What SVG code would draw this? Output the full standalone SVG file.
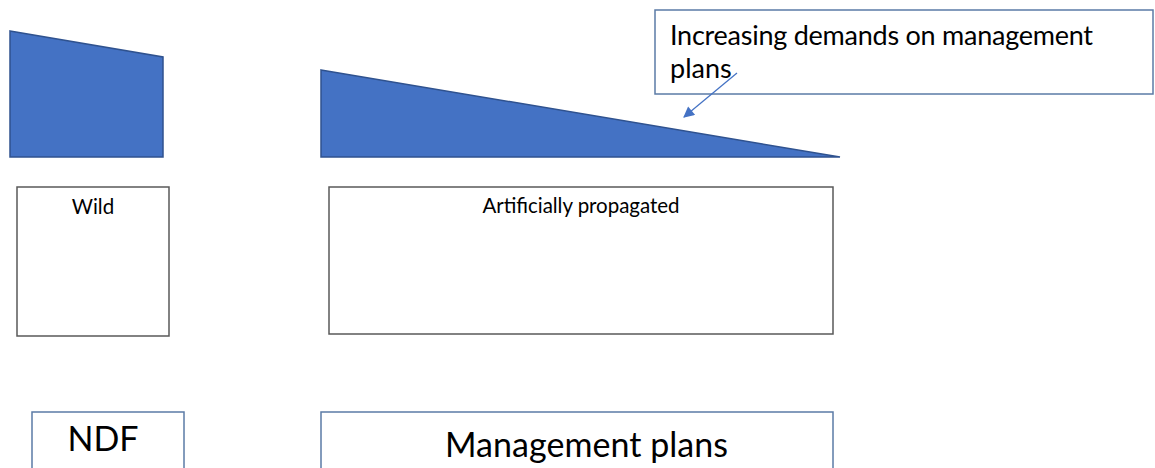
<svg xmlns="http://www.w3.org/2000/svg" width="1155" height="468" viewBox="0 0 1155 468">
  <style>
    .wedge { fill: #4472C4; stroke: #2F528F; stroke-width: 1.5; stroke-linejoin: miter; }
    .box-grey { fill: #FFFFFF; stroke: #595959; stroke-width: 1.5; }
    .box-blue { fill: #FFFFFF; stroke: #5B7BA6; stroke-width: 1.5; }
    .txt { font-family: Lato, "Open Sans", "Liberation Sans", sans-serif; fill: #000000; }
    .small { font-size: 20.5px; }
    .large { font-size: 34px; }
    .note { font-size: 27px; }
    .leader { stroke: #4472C4; stroke-width: 1.25; fill: none; }
  </style>
  <defs>
    <marker id="arrowhead" viewBox="0 0 10 10" refX="9" refY="5" markerWidth="12" markerHeight="11" markerUnits="userSpaceOnUse" orient="auto">
      <path d="M0,0 L10,5 L0,10 Z" fill="#4472C4"/>
    </marker>
  </defs>

  <rect x="0" y="0" width="1155" height="468" fill="#FFFFFF"/>

  <!-- Blue wedge shapes -->
  <g id="wedge-wild">
    <polygon class="wedge" points="10,31 163,57 163,157 10,157"/>
  </g>
  <g id="wedge-artificial">
    <polygon class="wedge" points="321,70 840,157 321,157"/>
  </g>

  <!-- Callout note -->
  <g id="note-demands">
    <rect class="box-blue" x="655" y="10" width="498" height="84"/>
    <text class="txt note" x="670" y="45" textLength="423" lengthAdjust="spacing">Increasing demands on management</text>
    <text class="txt note" x="670" y="78">plans</text>
  </g>

  <!-- Source boxes -->
  <g id="node-wild">
    <rect class="box-grey" x="17" y="187" width="152" height="149"/>
    <text class="txt small" x="93" y="214" text-anchor="middle">Wild</text>
  </g>
  <g id="node-artificial">
    <rect class="box-grey" x="329" y="187" width="504" height="147"/>
    <text class="txt small" x="581" y="213" text-anchor="middle" textLength="197" lengthAdjust="spacing">Artificially propagated</text>
  </g>

  <!-- Requirement boxes -->
  <g id="node-ndf">
    <rect class="box-blue" x="32" y="412" width="152" height="70"/>
    <text class="txt large" x="103" y="451" text-anchor="middle">NDF</text>
  </g>
  <g id="node-plans">
    <rect class="box-blue" x="321" y="412" width="512" height="70"/>
    <text class="txt large" x="586.5" y="457" text-anchor="middle" textLength="283" lengthAdjust="spacing">Management plans</text>
  </g>

  <!-- Connectors -->
  <g id="connectors">
    <line class="leader" x1="737" y1="73" x2="684" y2="117" marker-end="url(#arrowhead)"/>
  </g>
</svg>
